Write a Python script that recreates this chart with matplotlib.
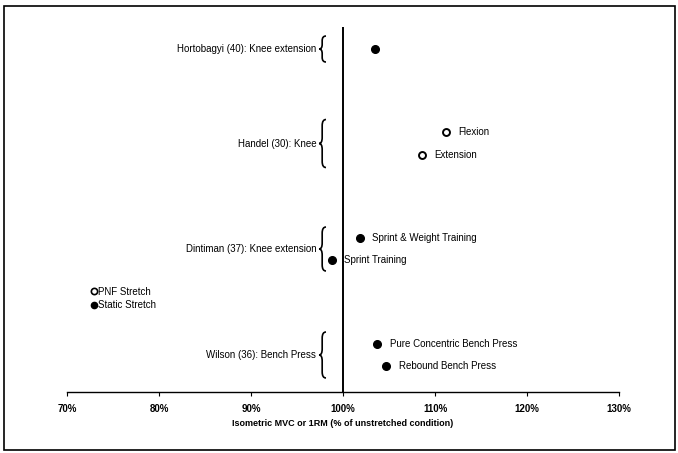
import matplotlib
matplotlib.use("Agg")
import matplotlib.pyplot as plt
from matplotlib.path import Path
from matplotlib.patches import PathPatch, Rectangle
from matplotlib.lines import Line2D

plt.rcParams['font.family'] = ['Liberation Sans', 'DejaVu Sans']

# Studies (top to bottom) and their vertical centre
studies = ["Hortobagyi (40): Knee extension", "Handel (30): Knee",
           "Dintiman (37): Knee extension", "Wilson (36): Bench Press"]
study_y = [3.43, 2.485, 1.43, 0.37]
brace_half = [0.13, 0.24, 0.22, 0.23]

# Individual results: study index, condition label, value (% of unstretched), stretch type
pt_study = [0, 1, 1, 2, 2, 3, 3]
pt_offset = [0.0, 0.115, -0.115, 0.11, -0.11, 0.11, -0.11]
pt_label = ["", "Flexion", "Extension", "Sprint & Weight Training",
            "Sprint Training", "Pure Concentric Bench Press", "Rebound Bench Press"]
pt_value = [103.5, 111.2, 108.6, 101.8, 98.8, 103.7, 104.7]
pt_pnf = [False, True, True, False, False, False, False]

xticks = [70, 80, 90, 100, 110, 120, 130]
xtick_labels = ["70%", "80%", "90%", "100%", "110%", "120%", "130%"]

fig = plt.figure(figsize=(6.78, 4.53), dpi=100)
ax = fig.add_axes([0.0988, 0.1347, 0.8142, 0.8476])
ax.set_xlim(70, 130)
ax.set_ylim(0, 3.84)

for s in ["top", "right", "left"]:
    ax.spines[s].set_visible(False)
ax.spines["bottom"].set_linewidth(1.0)
ax.set_yticks([])
ax.set_xticks(xticks)
ax.set_xticklabels(xtick_labels, fontsize=7, fontweight="bold")
ax.tick_params(axis="x", direction="out", length=3, width=0.8, pad=6)
ax.set_xlabel("Isometric MVC or 1RM (% of unstretched condition)",
              fontsize=6.5, fontweight="bold", labelpad=3)

ax.vlines(100, 0, 3.65, color="black", lw=1.4)

for i, v in enumerate(pt_value):
    y = study_y[pt_study[i]] + pt_offset[i]
    if pt_pnf[i]:
        ax.plot(v, y, "o", ms=5, mfc="white", mec="black", mew=1.4)
    else:
        ax.plot(v, y, "o", ms=5.5, mfc="black", mec="black")
    if pt_label[i]:
        ax.annotate(pt_label[i], (v, y), xytext=(9, 0), textcoords="offset points",
                    va="center", ha="left", fontsize=7)


def brace(ax, x_tip, y_mid, half, width=0.75):
    x_arm = x_tip + width
    x_mid = x_tip + width * 0.45
    r = min(0.06, half * 0.35)
    verts = [(x_arm, y_mid + half),
             (x_mid, y_mid + half), (x_mid, y_mid + half - r),
             (x_mid, y_mid + r),
             (x_mid, y_mid), (x_tip, y_mid),
             (x_mid, y_mid), (x_mid, y_mid - r),
             (x_mid, y_mid - half + r),
             (x_mid, y_mid - half), (x_arm, y_mid - half)]
    codes = [Path.MOVETO,
             Path.CURVE3, Path.CURVE3,
             Path.LINETO,
             Path.CURVE3, Path.CURVE3,
             Path.CURVE3, Path.CURVE3,
             Path.LINETO,
             Path.CURVE3, Path.CURVE3]
    ax.add_patch(PathPatch(Path(verts, codes), fill=False, lw=1.2, color="black"))


for name, y, h in zip(studies, study_y, brace_half):
    brace(ax, 97.4, y, h)
    ax.text(97.1, y, name, ha="right", va="center", fontsize=7)

handles = [Line2D([], [], ls="", marker="o", ms=4.5, mfc="white", mec="black", mew=1.2),
           Line2D([], [], ls="", marker="o", ms=4.5, mfc="black", mec="black")]
ax.legend(handles, ["PNF Stretch", "Static Stretch"], loc="center left",
          bbox_to_anchor=(0.036, 0.244), frameon=False, fontsize=7,
          handlelength=0.4, handletextpad=0.25, labelspacing=0.35, borderpad=0)

fig.patches.append(Rectangle((0.006, 0.006), 0.99, 0.98, transform=fig.transFigure,
                             fill=False, edgecolor="black", lw=1.2))

fig.savefig("out.png", dpi=100)
